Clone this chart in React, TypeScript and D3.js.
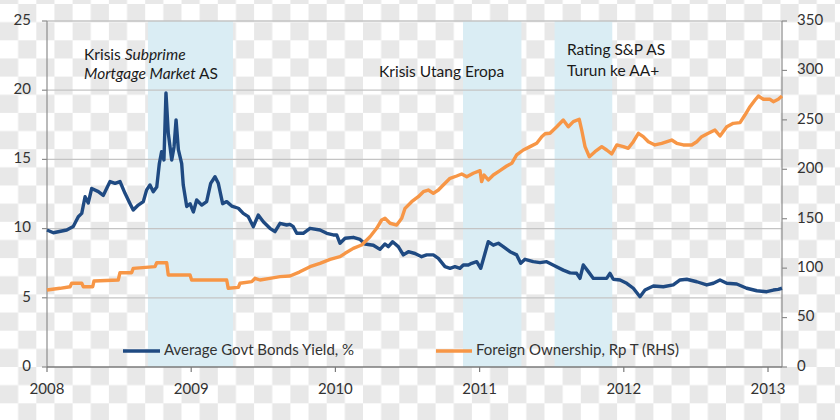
import React from "react";
import * as d3 from "d3";

const W = 840;
const H = 420;

// [decimal year, %]
const yieldPoints: [number, number][] = [
  [2008.0, 9.9], [2008.044, 9.7], [2008.137, 9.9], [2008.182, 10.15], [2008.217, 10.86],
  [2008.241, 11.1], [2008.264, 12.3], [2008.286, 11.85], [2008.31, 12.9], [2008.356, 12.67],
  [2008.39, 12.4], [2008.437, 13.4], [2008.472, 13.27], [2008.506, 13.4], [2008.541, 12.55],
  [2008.576, 11.8], [2008.598, 11.34], [2008.633, 11.7], [2008.668, 11.95], [2008.691, 12.8],
  [2008.714, 13.15], [2008.737, 12.67], [2008.761, 13.0], [2008.779, 14.7], [2008.795, 15.56],
  [2008.811, 14.96], [2008.825, 19.8], [2008.841, 16.9], [2008.865, 14.96], [2008.881, 15.9],
  [2008.895, 17.85], [2008.911, 15.7], [2008.934, 14.7], [2008.945, 13.15], [2008.969, 11.6],
  [2008.992, 11.8], [2009.015, 11.2], [2009.038, 12.07], [2009.073, 11.7], [2009.107, 11.95],
  [2009.135, 13.27], [2009.165, 13.75], [2009.188, 13.27], [2009.218, 11.8], [2009.246, 11.95],
  [2009.281, 11.63], [2009.327, 11.47], [2009.361, 11.1], [2009.396, 10.86], [2009.431, 10.14],
  [2009.465, 10.98], [2009.5, 10.5], [2009.546, 10.02], [2009.581, 9.78], [2009.616, 10.38],
  [2009.662, 10.26], [2009.685, 10.3], [2009.708, 10.14], [2009.732, 9.66], [2009.777, 9.66],
  [2009.824, 10.02], [2009.893, 9.9], [2009.94, 9.66], [2009.985, 9.54], [2010.009, 9.54],
  [2010.032, 8.94], [2010.067, 9.3], [2010.124, 9.37], [2010.171, 9.22], [2010.205, 8.89],
  [2010.263, 8.8], [2010.309, 8.5], [2010.344, 8.89], [2010.367, 8.7], [2010.397, 9.05],
  [2010.436, 8.7], [2010.471, 8.1], [2010.506, 8.33], [2010.552, 8.2], [2010.598, 7.97],
  [2010.633, 8.1], [2010.679, 8.1], [2010.714, 7.85], [2010.76, 7.25], [2010.795, 7.13],
  [2010.829, 7.25], [2010.864, 7.13], [2010.887, 7.37], [2010.922, 7.37], [2010.945, 7.49],
  [2010.98, 7.61], [2011.008, 7.13], [2011.037, 8.2], [2011.06, 9.05], [2011.095, 8.8],
  [2011.13, 8.94], [2011.164, 8.7], [2011.211, 8.33], [2011.257, 8.1], [2011.285, 7.49],
  [2011.315, 7.78], [2011.372, 7.61], [2011.419, 7.54], [2011.465, 7.61], [2011.523, 7.3],
  [2011.58, 7.0], [2011.627, 6.8], [2011.673, 6.77], [2011.696, 6.4], [2011.719, 7.37],
  [2011.754, 6.89], [2011.789, 6.4], [2011.847, 6.4], [2011.881, 6.4], [2011.904, 6.77],
  [2011.927, 6.34], [2011.974, 6.29], [2012.02, 6.05], [2012.066, 5.69], [2012.112, 5.08],
  [2012.147, 5.56], [2012.205, 5.85], [2012.274, 5.8], [2012.343, 5.93], [2012.39, 6.29],
  [2012.436, 6.34], [2012.506, 6.16], [2012.575, 5.93], [2012.621, 6.05], [2012.667, 6.29],
  [2012.714, 6.05], [2012.783, 6.0], [2012.852, 5.69], [2012.922, 5.51], [2012.991, 5.44],
  [2013.037, 5.56], [2013.071, 5.61], [2013.097, 5.69],
];

// [decimal year, Rp T]
const ownershipPoints: [number, number][] = [
  [2008.0, 77.9], [2008.09, 79.6], [2008.16, 81.2], [2008.171, 84.7], [2008.241, 84.7],
  [2008.252, 81.2], [2008.317, 81.2], [2008.326, 87], [2008.494, 88], [2008.506, 95.4],
  [2008.587, 95.4], [2008.598, 99.8], [2008.749, 101.5], [2008.761, 105.5], [2008.83, 105.5],
  [2008.841, 93], [2008.992, 93], [2009.003, 88], [2009.246, 88], [2009.257, 79.6],
  [2009.327, 80.6], [2009.338, 84.7], [2009.42, 86.3], [2009.442, 89.7], [2009.477, 88],
  [2009.546, 89.7], [2009.616, 91.4], [2009.685, 92], [2009.75, 96], [2009.824, 101.5],
  [2009.893, 104.9], [2009.963, 108.9], [2010.032, 111.6], [2010.067, 115], [2010.124, 120],
  [2010.182, 123.4], [2010.24, 131.8], [2010.286, 140.3], [2010.321, 148.7], [2010.344, 150.4],
  [2010.379, 145.4], [2010.425, 143.6], [2010.46, 150.4], [2010.483, 160.5], [2010.529, 167.2],
  [2010.575, 172.3], [2010.61, 177.3], [2010.644, 179], [2010.679, 175.7], [2010.714, 179],
  [2010.748, 184.1], [2010.795, 190.9], [2010.841, 193.2], [2010.876, 195.2], [2010.911, 192.5],
  [2010.956, 196], [2011.003, 198.6], [2011.014, 187.5], [2011.031, 194.2], [2011.06, 189.2],
  [2011.095, 194.2], [2011.141, 198.6], [2011.188, 203.3], [2011.223, 206], [2011.257, 214.5],
  [2011.303, 219.5], [2011.35, 222.9], [2011.396, 226.3], [2011.431, 233], [2011.454, 236],
  [2011.488, 236.4], [2011.535, 243], [2011.58, 249.9], [2011.615, 243], [2011.65, 248.2],
  [2011.691, 250.6], [2011.708, 239.7], [2011.731, 222.9], [2011.761, 212.7], [2011.8, 217.8],
  [2011.847, 222.9], [2011.881, 219.5], [2011.916, 215.5], [2011.951, 224.6], [2011.997, 222.9],
  [2012.031, 221.2], [2012.066, 227.9], [2012.101, 236.4], [2012.135, 233], [2012.17, 227.9],
  [2012.216, 224.6], [2012.263, 226.3], [2012.332, 229.6], [2012.367, 226.3], [2012.413, 224.6],
  [2012.471, 224.6], [2012.506, 227.9], [2012.54, 233], [2012.586, 236.4], [2012.632, 239.7],
  [2012.667, 233.7], [2012.714, 243], [2012.759, 246.5], [2012.806, 247.2], [2012.84, 254.9],
  [2012.875, 263.3], [2012.91, 270.1], [2012.933, 274.1], [2012.968, 270.8], [2013.014, 270.8],
  [2013.037, 268.4], [2013.071, 270.8], [2013.097, 274.1],
];

const crisisBands: [number, number][] = [
  [2008.7, 2009.29],
  [2010.885, 2011.29],
  [2011.52, 2011.92],
];

const leftTicks = [0, 5, 10, 15, 20, 25];
const rightTicks = [0, 50, 100, 150, 200, 250, 300, 350];
const yearTicks = [2008, 2009, 2010, 2011, 2012, 2013];

const BLUE = "#1f4a82";
const ORANGE = "#f79646";
const FONT = "Lato, 'Open Sans', sans-serif";

const plot = { left: 47, right: 782, top: 21, bottom: 367 };

export default function App() {
  const x = d3.scaleLinear().domain([2008, 2013.097]).range([plot.left, plot.right]);
  const yL = d3.scaleLinear().domain([0, 25]).range([plot.bottom, plot.top]);
  const yR = d3.scaleLinear().domain([0, 350]).range([plot.bottom, plot.top]);

  const yieldLine = d3
    .line<[number, number]>()
    .x((d) => x(d[0]))
    .y((d) => yL(d[1]));
  const ownLine = d3
    .line<[number, number]>()
    .x((d) => x(d[0]))
    .y((d) => yR(d[1]));

  const cell = 18.15;

  return (
    <div style={{ position: "absolute", left: 0, top: 0 }}>
      <svg width={W} height={H} style={{ display: "block" }} fontFamily={FONT}>
        <defs>
          <pattern id="checker" patternUnits="userSpaceOnUse" x={0} y={4} width={cell * 2} height={cell * 2}>
            <rect width={cell * 2} height={cell * 2} fill="#ffffff" />
            <rect x={cell} y={0} width={cell} height={cell} fill="#e8e8e8" />
            <rect x={0} y={cell} width={cell} height={cell} fill="#e8e8e8" />
          </pattern>
        </defs>
        <rect width={W} height={H} fill="url(#checker)" />

        {crisisBands.map(([a, b], i) => (
          <rect
            key={i}
            x={x(a)}
            y={plot.top}
            width={x(b) - x(a)}
            height={plot.bottom - plot.top}
            fill="#daedf4"
          />
        ))}

        {leftTicks.slice(1).map((t) => (
          <line key={t} x1={plot.left} x2={plot.right} y1={yL(t)} y2={yL(t)} stroke="#c4c4c4" strokeWidth={1.3} />
        ))}

        <line x1={plot.left} x2={plot.left} y1={plot.top} y2={plot.bottom} stroke="#8c8c8c" strokeWidth={1.2} />
        <line x1={plot.right} x2={plot.right} y1={plot.top} y2={plot.bottom} stroke="#8c8c8c" strokeWidth={1.2} />
        <line x1={plot.left} x2={plot.right} y1={plot.bottom} y2={plot.bottom} stroke="#7a7a7a" strokeWidth={1.6} />

        {leftTicks.map((t) => (
          <g key={t}>
            <line x1={plot.left - 5} x2={plot.left} y1={yL(t)} y2={yL(t)} stroke="#8c8c8c" strokeWidth={1.2} />
            <text x={31} y={yL(t)} textAnchor="end" dominantBaseline="middle" fontSize={15} fill="#333">
              {t}
            </text>
          </g>
        ))}

        {rightTicks.map((t) => (
          <g key={t}>
            <line x1={plot.right} x2={plot.right + 5} y1={yR(t)} y2={yR(t)} stroke="#8c8c8c" strokeWidth={1.2} />
            <text x={797} y={yR(t)} textAnchor="start" dominantBaseline="middle" fontSize={15} fill="#333">
              {t}
            </text>
          </g>
        ))}

        {yearTicks.map((t) => (
          <g key={t}>
            <line x1={x(t)} x2={x(t)} y1={plot.bottom} y2={plot.bottom + 5} stroke="#7a7a7a" strokeWidth={1.2} />
            <text x={x(t)} y={390} textAnchor="middle" dominantBaseline="middle" fontSize={15} fill="#333">
              {t}
            </text>
          </g>
        ))}

        <path d={yieldLine(yieldPoints) ?? ""} fill="none" stroke={BLUE} strokeWidth={3.4} strokeLinejoin="round" />
        <path d={ownLine(ownershipPoints) ?? ""} fill="none" stroke={ORANGE} strokeWidth={3.4} strokeLinejoin="round" />

        <g fontSize={15.5} fill="#1a1a1a">
          <text x={84} y={60}>
            Krisis <tspan fontStyle="italic">Subprime</tspan>
          </text>
          <text x={84} y={79}>
            <tspan fontStyle="italic">Mortgage Market</tspan> AS
          </text>
          <text x={379} y={77}>Krisis Utang Eropa</text>
          <text x={567} y={55}>Rating S&amp;P AS</text>
          <text x={567} y={76}>Turun ke AA+</text>
        </g>

        <g fontSize={15} fill="#333">
          <line x1={123} x2={160} y1={351} y2={351} stroke={BLUE} strokeWidth={3.4} />
          <text x={164} y={351} dominantBaseline="middle">
            Average Govt Bonds Yield, %
          </text>
          <line x1={436} x2={472} y1={351} y2={351} stroke={ORANGE} strokeWidth={3.4} />
          <text x={476} y={351} dominantBaseline="middle">
            Foreign Ownership, Rp T (RHS)
          </text>
        </g>
      </svg>
    </div>
  );
}
